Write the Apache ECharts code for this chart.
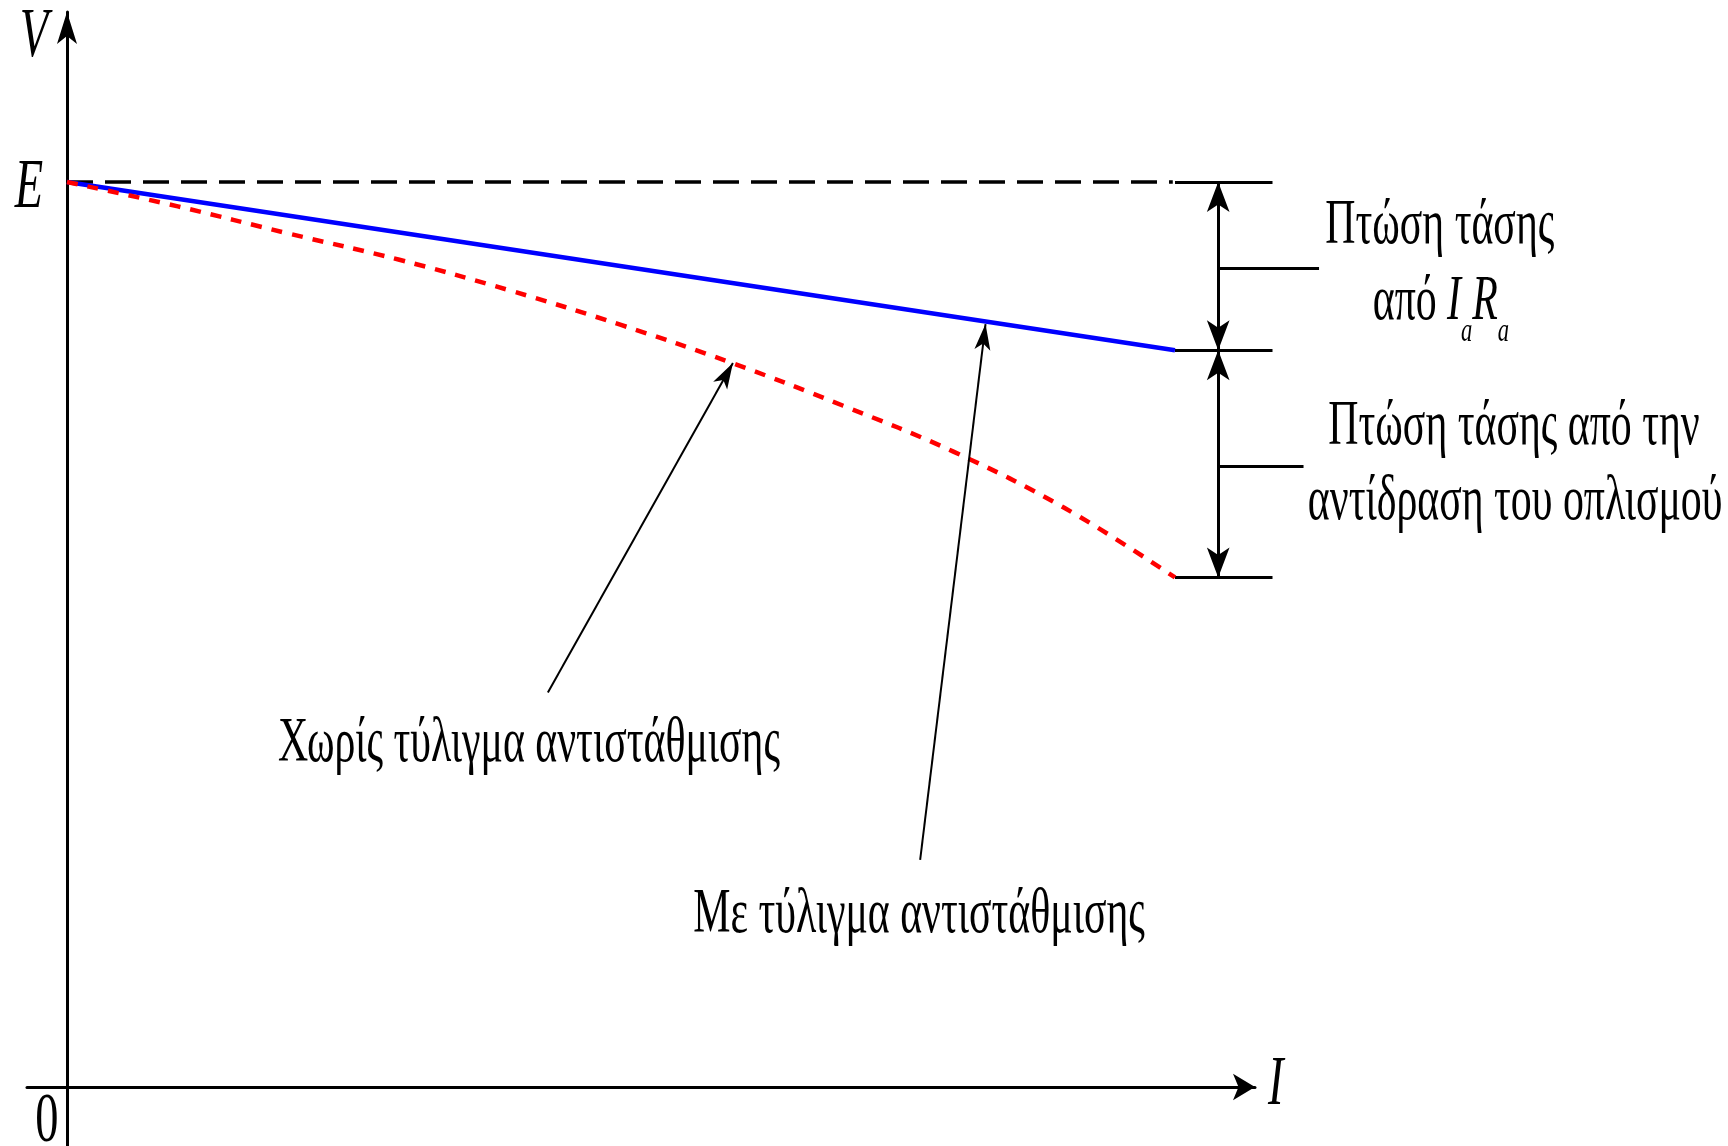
<!DOCTYPE html>
<html>
<head>
<meta charset="utf-8">
<script src="https://cdn.jsdelivr.net/npm/echarts@6/dist/echarts.min.js"></script>
<style>
html, body { margin: 0; padding: 0; background: #fff; }
#chart { width: 1728px; height: 1146px; }
</style>
</head>
<body>
<div id="chart"></div>
<script>
// I in arbitrary units (100 = end of the curves), V with E = 100
const current = [0, 10, 20, 30, 40, 50, 60, 70, 80, 90, 100];
const voltageNoComp = [100, 97.3, 94.3, 91.4, 88.0, 84.2, 80.0, 75.3, 70.2, 64.0, 56.3];
const currentComp = [0, 100];
const voltageComp = [100, 81.4];
const E = 100;
const dashEnd = 99.8;

// right hand bracket: drop from IaRa, drop from armature reaction
const bracketX = [100, 108.8];
const bracketArrowX = 103.9;
const bracketLevels = [100, 81.4, 56.3];
const leaderEnds = [[113, 90.5], [111.6, 68.6]];

// pointers from the captions to the curves: [tail, tip]
const pointers = [
    [[43.4, 43.6], [60.1, 80.0]],
    [[77.0, 25.1], [82.9, 84.3]]
];

const axisTexts = ['V', 'E', '0', 'I'];
const axisTextAt = [[-2.98, 116.0], [-3.43, 99.3], [-1.81, -3.9], [109.1, 0.2]];
const captions = [
    'Πτώση τάσης',
    '{n|από }{i|I}{s|a}{i|R}{s|a}',
    'Πτώση τάσης από την',
    'αντίδραση του οπλισμού',
    'Χωρίς τύλιγμα αντιστάθμισης',
    'Με τύλιγμα αντιστάθμισης'
];
const captionAt = [[123.9, 95.1], [124.0, 86.7], [130.6, 72.9], [130.7, 64.6], [41.7, 37.9], [76.9, 19.0]];

const chart = echarts.init(document.getElementById('chart'));

const FONT = '"Liberation Serif", "DejaVu Serif", serif';

const zip = (xs, ys) => xs.map((x, i) => [x, ys[i]]);

const axisCommon = {
    type: 'value',
    axisTick: { show: false },
    axisLabel: { show: false },
    splitLine: { show: false }
};

const BRACKET_HEAD = [17, 30];
const POINTER_HEAD = [12, 26];

const bracketArrows = [];
for (let i = 0; i < bracketLevels.length - 1; i++) {
    bracketArrows.push({ coords: [[bracketArrowX, bracketLevels[i]], [bracketArrowX, bracketLevels[i + 1]]] });
}

chart.setOption({
    animation: false,
    backgroundColor: '#fff',
    grid: { left: 27, right: 473, top: 12, bottom: 0, outerBoundsMode: 'none' },
    xAxis: Object.assign({}, axisCommon, {
        min: -3.61, max: 107.22,
        axisLine: {
            onZero: true,
            symbol: ['none', 'arrow'],
            symbolSize: [20, 22],
            lineStyle: { color: '#000', width: 3 }
        }
    }),
    yAxis: Object.assign({}, axisCommon, {
        min: -6.52, max: 118.78,
        axisLine: {
            onZero: true,
            symbol: ['none', 'arrow'],
            symbolSize: [15, 32],
            lineStyle: { color: '#000', width: 3 }
        }
    }),
    series: [
        {
            id: 'eLevel',
            type: 'line',
            data: [[0, E], [dashEnd, E]],
            symbol: 'none',
            lineStyle: { color: '#000', width: 3.5, type: [26, 12] },
            z: 1
        },
        {
            id: 'noComp',
            name: 'Χωρίς τύλιγμα αντιστάθμισης',
            type: 'line',
            data: zip(current, voltageNoComp),
            smooth: 0.4,
            symbol: 'none',
            lineStyle: { color: '#ff0000', width: 4.5, type: [11, 10] },
            z: 3
        },
        {
            id: 'comp',
            name: 'Με τύλιγμα αντιστάθμισης',
            type: 'line',
            data: zip(currentComp, voltageComp),
            symbol: 'none',
            lineStyle: { color: '#0000ff', width: 4.5 },
            z: 2
        },
        {
            id: 'bracket',
            type: 'lines',
            coordinateSystem: 'cartesian2d',
            clip: false,
            polyline: false,
            symbol: 'none',
            lineStyle: { color: '#000', width: 3, opacity: 1 },
            data: bracketLevels.map(v => ({ coords: [[bracketX[0], v], [bracketX[1], v]] }))
                .concat(leaderEnds.map(p => ({ coords: [[bracketArrowX, p[1]], p] })))
        },
        {
            id: 'bracketArrows',
            type: 'lines',
            coordinateSystem: 'cartesian2d',
            clip: false,
            symbol: ['arrow', 'arrow'],
            symbolSize: [BRACKET_HEAD, BRACKET_HEAD],
            lineStyle: { color: '#000', width: 3, opacity: 1 },
            data: bracketArrows,
            z: 4
        },
        {
            id: 'pointers',
            type: 'lines',
            coordinateSystem: 'cartesian2d',
            clip: false,
            symbol: ['none', 'arrow'],
            symbolSize: [POINTER_HEAD, POINTER_HEAD],
            lineStyle: { color: '#000', width: 2, opacity: 1 },
            data: pointers.map(([tail, tip]) => ({ coords: [tail, tip] })),
            z: 5
        }
    ]
});

// horizontal squeeze of the serif text, measured on one caption
const ctx = document.createElement('canvas').getContext('2d');
ctx.font = '63px ' + FONT;
const sx = 502 / ctx.measureText(captions[4]).width;

const px = p => chart.convertToPixel({ gridIndex: 0 }, p);

const graphics = [];
axisTexts.forEach((t, i) => {
    const p = px(axisTextAt[i]);
    graphics.push({
        type: 'text', x: p[0], y: p[1], scaleX: sx, silent: true,
        style: {
            text: t,
            font: (t === '0' ? '' : 'italic ') + '70px ' + FONT,
            fill: '#000', align: 'center', verticalAlign: 'middle'
        }
    });
});
captions.forEach((t, i) => {
    const p = px(captionAt[i]);
    graphics.push({
        type: 'text', x: p[0], y: p[1], scaleX: sx, silent: true,
        style: {
            text: t,
            font: '63px ' + FONT,
            fill: '#000', align: 'center', verticalAlign: 'middle',
            rich: {
                n: { fontFamily: FONT, fontSize: 63, lineHeight: 94 },
                i: { fontFamily: FONT, fontSize: 63, fontStyle: 'italic', lineHeight: 94 },
                s: { fontFamily: FONT, fontSize: 34, fontStyle: 'italic', lineHeight: 34, verticalAlign: 'bottom' }
            }
        }
    });
});

chart.setOption({ graphic: graphics });
</script>
</body>
</html>
